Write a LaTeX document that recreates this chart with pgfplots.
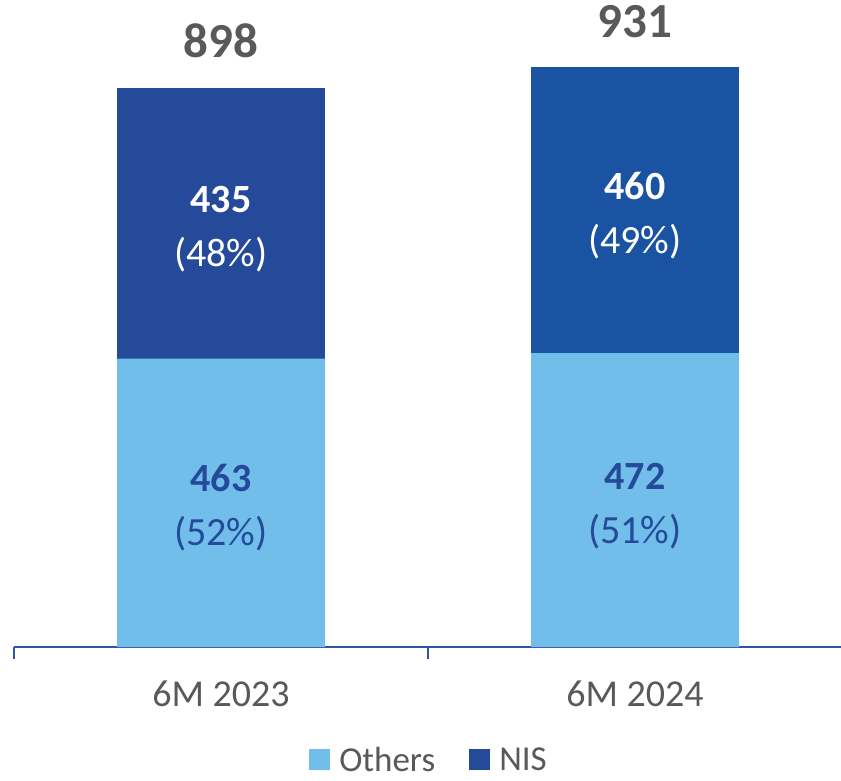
\documentclass[border=0pt]{standalone}
\usepackage{pgfplots}
\pgfplotsset{compat=1.18}
\usepackage{fontspec}
\setmainfont{Carlito}
\definecolor{others}{HTML}{71BEEA}
\definecolor{nisA}{HTML}{244A99}
\definecolor{nisB}{HTML}{1953A1}
\definecolor{txtgray}{HTML}{595959}
\definecolor{axblue}{HTML}{3055A3}
\begin{document}
\begin{tikzpicture}
\begin{axis}[name=a,
  scale only axis, width=828pt, height=622.7pt,
  xmin=-0.5, xmax=1.5, ymin=0, ymax=1000,
  ybar stacked, bar width=208pt,
  axis x line*=bottom, axis y line=none, ytick=\empty,
  xtick={0,1}, xticklabels={6M 2023,6M 2024},
  major tick length=0pt,
  minor xtick={-0.5,0.5,1.5}, minor tick length=12pt, tick align=outside,
  x axis line style={axblue, line width=1.5pt},
  minor tick style={axblue, line width=1.5pt},
  xticklabel style={font=\fontsize{38}{40}\selectfont, text=txtgray, yshift=-30pt},
  clip=false,
  legend columns=2,
  legend style={draw=none, fill=none, at={(0.5,-0.157)}, anchor=north,
    font=\fontsize{35}{37}\selectfont, text=txtgray,
    nodes={inner sep=0pt},
    /tikz/every odd column/.append style={column sep=9pt},
    /tikz/every even column/.append style={column sep=34pt}},
]
\addplot[fill=others, draw=none, legend image code/.code={\fill[others] (0pt,-10pt) rectangle (21pt,11pt);}] coordinates {(0,463) (1,472)};
\addplot[fill=nisA, draw=none, legend image code/.code={\fill[nisA] (0pt,-10pt) rectangle (21pt,11pt);}] coordinates {(0,435) (1,0)};
\addplot[fill=nisB, draw=none] coordinates {(0,0) (1,460)};
\legend{Others,NIS}
\coordinate (t1) at (axis cs:0,898);
\coordinate (t2) at (axis cs:1,931);
\coordinate (o1) at (axis cs:0,231.5);
\coordinate (o2) at (axis cs:1,236);
\coordinate (n1) at (axis cs:0,680.5);
\coordinate (n2) at (axis cs:1,701.5);
\end{axis}
% totals
\node[anchor=base, text=txtgray, font=\fontsize{49}{51}\selectfont\bfseries, yshift=30pt] at (t1) {898};
\node[anchor=base, text=txtgray, font=\fontsize{49}{51}\selectfont\bfseries, yshift=30pt] at (t2) {931};
% others labels
\node[anchor=base, text=nisA, font=\fontsize{40}{42}\selectfont\bfseries, yshift=11pt] at (o1) {463};
\node[anchor=base, text=nisA, font=\fontsize{40}{42}\selectfont, yshift=-43pt] at (o1) {(52\%)};
\node[anchor=base, text=nisA, font=\fontsize{40}{42}\selectfont\bfseries, yshift=11pt] at (o2) {472};
\node[anchor=base, text=nisA, font=\fontsize{40}{42}\selectfont, yshift=-43pt] at (o2) {(51\%)};
% NIS labels
\node[anchor=base, text=white, font=\fontsize{40}{42}\selectfont\bfseries, yshift=11pt] at (n1) {435};
\node[anchor=base, text=white, font=\fontsize{40}{42}\selectfont, yshift=-43pt] at (n1) {(48\%)};
\node[anchor=base, text=white, font=\fontsize{40}{42}\selectfont\bfseries, yshift=11pt] at (n2) {460};
\node[anchor=base, text=white, font=\fontsize{40}{42}\selectfont, yshift=-43pt] at (n2) {(49\%)};
\pgfresetboundingbox
\path (a.south west) ++(-14pt,-133pt) rectangle ++(841pt,780pt);
\end{tikzpicture}
\end{document}
